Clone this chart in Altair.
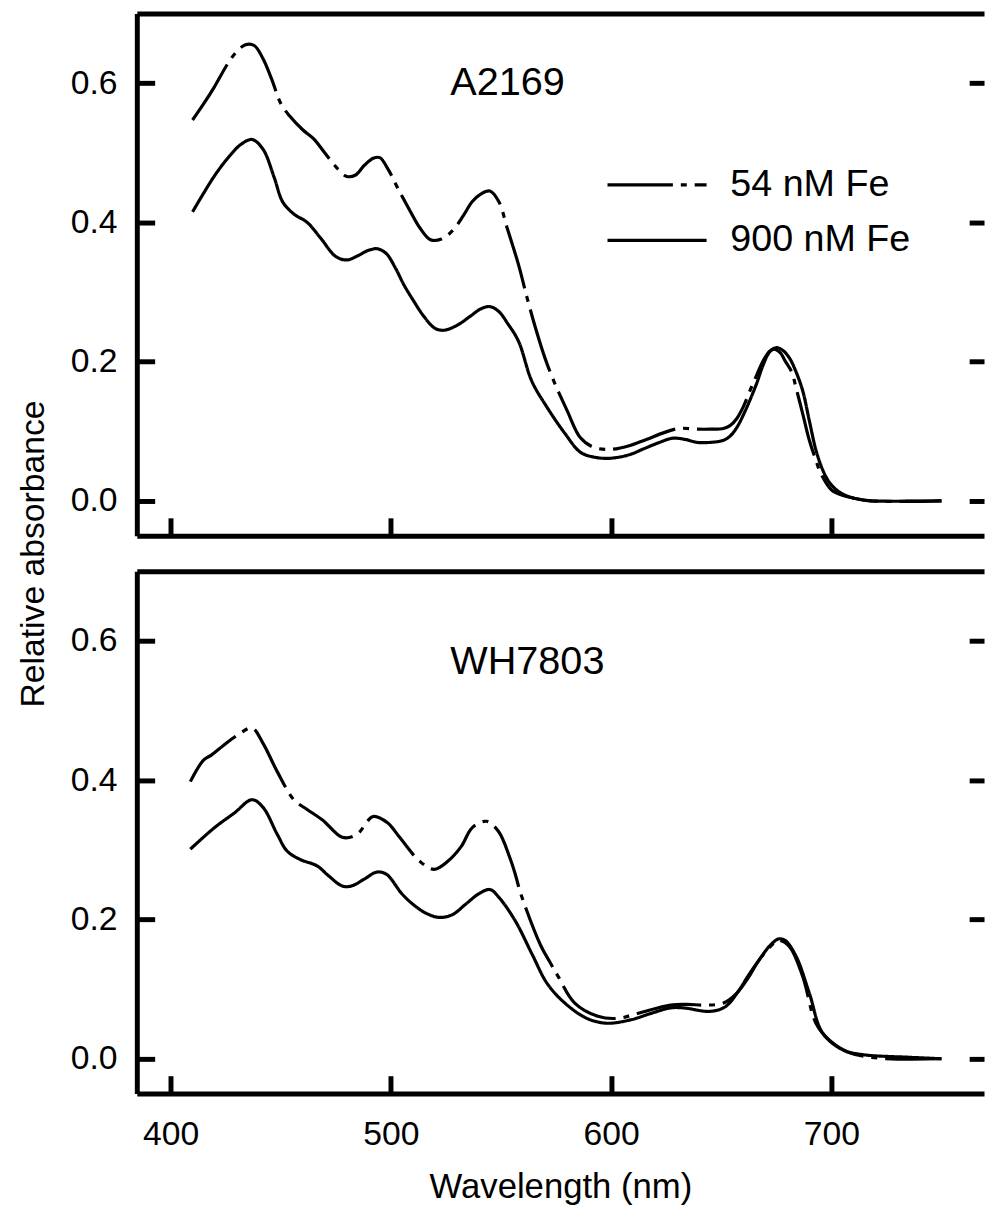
import altair as alt
import pandas as pd

FONT = "Liberation Sans"

series = ["54 nM Fe", "900 nM Fe"]

# ---- Panel A2169 ----
a54_wl = [410, 415, 420, 426, 430, 434, 438, 442, 446, 450, 454, 460, 465, 470, 475, 480, 484, 488, 492, 495,
          499, 503, 509, 513, 518, 523, 528, 533, 537, 541, 545, 549, 553, 558, 562, 566, 570, 574, 580, 586,
          592, 600, 609, 616, 624, 631, 639, 645, 651, 654, 657, 660, 663, 666, 669, 672, 674, 677, 679, 682,
          684, 687, 690, 693, 695, 700, 705, 710, 718, 750]
a54_v = [0.547, 0.57, 0.595, 0.628, 0.645, 0.655, 0.654, 0.635, 0.605, 0.571, 0.553, 0.533, 0.52, 0.5, 0.48,
         0.466, 0.468, 0.482, 0.492, 0.493, 0.475, 0.45, 0.415, 0.393, 0.375, 0.376, 0.388, 0.41, 0.43, 0.441,
         0.445, 0.43, 0.39, 0.339, 0.29, 0.245, 0.205, 0.172, 0.13, 0.091, 0.077, 0.074, 0.08, 0.088, 0.098,
         0.104, 0.103, 0.103, 0.104, 0.108, 0.118, 0.135, 0.158, 0.18, 0.201, 0.215, 0.218, 0.212, 0.201, 0.185,
         0.162, 0.125, 0.087, 0.058, 0.041, 0.016, 0.008, 0.004, 0.0, 0.0]
a900_wl = [410, 420, 427, 432, 437, 442, 447, 451, 456, 462, 468, 475, 480, 485, 490, 494, 498, 502, 506, 510,
           515, 520, 524, 530, 536, 541, 545, 549, 553, 558, 564, 571, 579, 586, 592, 598, 604, 609, 615, 622,
           628, 634, 639, 645, 651, 654, 657, 661, 666, 669, 672, 675, 678, 681, 684, 687, 690, 693, 696, 699,
           703, 708, 713, 718, 750]
a900_v = [0.415, 0.467, 0.496, 0.512, 0.519, 0.505, 0.465, 0.429, 0.412, 0.40, 0.378, 0.351, 0.346, 0.352, 0.36,
          0.362, 0.355, 0.335, 0.31, 0.289, 0.265, 0.248, 0.245, 0.252, 0.265, 0.276, 0.279, 0.272, 0.255, 0.229,
          0.172, 0.134, 0.097, 0.07, 0.063, 0.061, 0.063, 0.067, 0.075, 0.084, 0.09, 0.088, 0.084, 0.084, 0.087,
          0.093, 0.105, 0.13, 0.168, 0.195, 0.214, 0.22, 0.216, 0.205, 0.185, 0.158, 0.115, 0.073, 0.045, 0.027,
          0.014, 0.006, 0.002, 0.0, 0.0]

# ---- Panel WH7803 ----
w54_wl = [409, 415, 418.5, 424, 430.5, 437, 442, 448.5, 456, 462, 469, 478, 484.5, 492, 498.5, 504, 513, 519.6,
          526, 532, 537, 543.5, 549, 554, 556.5, 559, 568, 572, 576, 583.5, 594, 603, 612, 627, 634.5, 643, 651,
          657, 662, 667, 672, 676, 681, 687, 693, 699, 708, 721, 750]
w54_v = [0.398, 0.429, 0.436, 0.45, 0.465, 0.475, 0.453, 0.412, 0.372, 0.358, 0.343, 0.318, 0.322, 0.348, 0.339,
         0.318, 0.284, 0.272, 0.284, 0.305, 0.332, 0.341, 0.326, 0.289, 0.265, 0.237, 0.163, 0.14, 0.118, 0.08,
         0.061, 0.058, 0.065, 0.077, 0.078, 0.077, 0.08, 0.094, 0.115, 0.141, 0.16, 0.17, 0.161, 0.118, 0.051,
         0.027, 0.009, 0.001, 0.0]
w900_wl = [409, 420, 429, 437, 442, 448.5, 453, 459, 466.5, 472, 478, 482, 488, 493.5, 498, 505, 510, 516, 522,
           528, 534, 540, 545, 549, 556.5, 564, 571, 579, 589, 598, 609, 618, 627, 633, 645, 652, 658, 662, 667,
           672, 676, 679, 684, 690, 696, 705, 714, 736, 750]
w900_v = [0.301, 0.332, 0.353, 0.372, 0.361, 0.322, 0.298, 0.286, 0.277, 0.262, 0.248, 0.248, 0.258, 0.268,
          0.265, 0.237, 0.222, 0.209, 0.203, 0.207, 0.222, 0.237, 0.243, 0.232, 0.198, 0.151, 0.108, 0.08, 0.058,
          0.051, 0.056, 0.065, 0.073, 0.073, 0.068, 0.075, 0.098, 0.118, 0.141, 0.162, 0.172, 0.17, 0.147, 0.094,
          0.037, 0.013, 0.006, 0.002, 0.0]

x_ticks = [400, 500, 600, 700]
y_ticks = [0.0, 0.2, 0.4, 0.6]
x_title = "Wavelength (nm)"
y_title = "Relative absorbance"


def make_df(wl54, v54, wl900, v900):
    return pd.concat([
        pd.DataFrame({"wl": wl54, "v": v54, "series": series[0]}),
        pd.DataFrame({"wl": wl900, "v": v900, "series": series[1]}),
    ], ignore_index=True)


X_DOM = [384.7, 769.3]
Y_DOM = [-0.05, 0.7]
W, H = 855, 527
AXW = 5


def panel(df, label, label_x, label_y, top):
    xs = alt.Scale(domain=X_DOM, nice=False, zero=False)
    ys = alt.Scale(domain=Y_DOM, nice=False, zero=False)
    base = alt.Chart(df)

    legend = (alt.Legend(title=None, orient="none", legendX=473, legendY=153, direction="vertical",
                         symbolType="stroke", symbolSize=10000, symbolStrokeWidth=3.2,
                         symbolStrokeColor="black", labelFont=FONT, labelFontSize=38, labelColor="black",
                         labelOffset=22, clipHeight=40, rowPadding=16, padding=0, labelLimit=600)
              if top else None)

    x_axis = alt.Axis(orient="bottom", values=x_ticks, domain=False, grid=False, ticks=True, tickSize=18,
                      tickWidth=AXW, tickColor="black", offset=-18, labels=not top, labelFont=FONT,
                      labelFontSize=34, labelColor="black", labelPadding=24, format="d",
                      title=None if top else x_title, titleFont=FONT, titleFontSize=35,
                      titleFontWeight="normal", titleColor="black", titlePadding=19)
    y_axis = alt.Axis(orient="left", values=y_ticks, domain=False, grid=False, ticks=True, tickSize=18,
                      tickWidth=AXW, tickColor="black", offset=-18, labels=True, labelFont=FONT,
                      labelFontSize=34, labelColor="black", labelPadding=20, format=".1f", title=None)

    lines = base.mark_line(color="black", strokeWidth=3.2, interpolate="catmull-rom").encode(
        x=alt.X("wl:Q", scale=xs, axis=x_axis),
        y=alt.Y("v:Q", scale=ys, axis=y_axis),
        strokeDash=alt.StrokeDash("series:N", scale=alt.Scale(domain=series, range=[[66, 8, 6, 8], [1, 0]]),
                                  legend=legend),
    )

    text = alt.Chart(pd.DataFrame({"label": [label]})).mark_text(
        font=FONT, fontSize=40, align="left", baseline="middle", color="black"
    ).encode(
        x=alt.XDatum(label_x, scale=xs, axis=None),
        y=alt.YDatum(label_y, scale=ys, axis=None),
        text="label:N",
    )

    frame_tr = base.mark_line(opacity=0).encode(
        x=alt.X("wl:Q", scale=xs, axis=alt.Axis(orient="top", domain=True, domainWidth=AXW, domainColor="black",
                                                ticks=False, labels=False, grid=False, title=None)),
        y=alt.Y("v:Q", scale=ys, axis=alt.Axis(orient="right", values=y_ticks, domain=False, ticks=True,
                                               tickSize=15, tickWidth=AXW, tickColor="black", offset=-15,
                                               labels=False, grid=False, title=None)),
        detail="series:N",
    )

    y_dom_axis = alt.Axis(orient="left", domain=True, domainWidth=AXW, domainColor="black", ticks=False,
                          labels=False, grid=False,
                          title=y_title if top else None, titleFont=FONT, titleFontSize=34,
                          titleFontWeight="normal", titleColor="black", titleX=-104, titleY=545,
                          titleAngle=270, titleAlign="center", titleBaseline="middle")
    frame_bl = base.mark_line(opacity=0).encode(
        x=alt.X("wl:Q", scale=xs, axis=alt.Axis(orient="bottom", domain=True, domainWidth=AXW,
                                                domainColor="black", ticks=False, labels=False, grid=False,
                                                title=None)),
        y=alt.Y("v:Q", scale=ys, axis=y_dom_axis),
        detail="series:N",
    )

    return alt.layer(lines, text, frame_tr, frame_bl).resolve_axis(
        x="independent", y="independent"
    ).properties(width=W, height=H)


top_panel = panel(make_df(a54_wl, a54_v, a900_wl, a900_v), "A2169", 527, 0.6, True)
bottom_panel = panel(make_df(w54_wl, w54_v, w900_wl, w900_v), "WH7803", 527, 0.57, False)

chart = alt.vconcat(top_panel, bottom_panel, spacing=36, bounds="flush").resolve_legend(
    strokeDash="independent"
).configure_view(stroke=None).properties(
    padding={"left": 9, "top": 0, "right": 0, "bottom": 0}, background="white"
)

chart.save("out.html", embed_options={"renderer": "svg", "actions": False})
